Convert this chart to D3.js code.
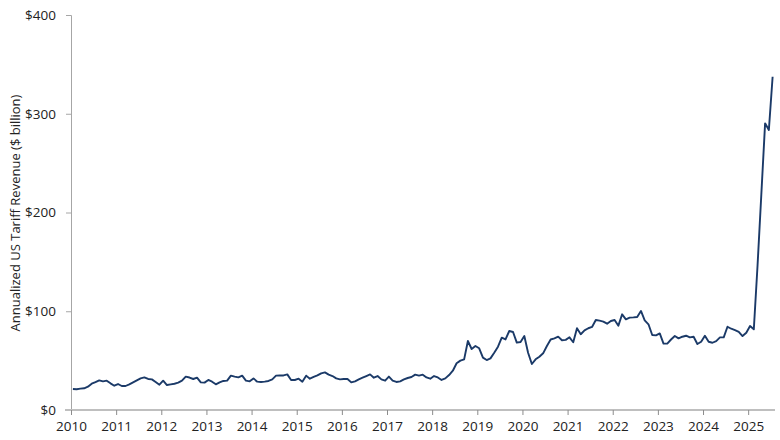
<!DOCTYPE html>
<html>
<head>
<meta charset="utf-8">
<script src="https://cdn.jsdelivr.net/npm/d3@7"></script>
<style>
  html, body { margin: 0; padding: 0; background: #ffffff; }
  svg { display: block; }
  text { font-family: "Open Sans", "Noto Sans", sans-serif; fill: #222222; }
</style>
</head>
<body>
<svg id="chart" width="780" height="440"></svg>
<script>
// Monthly annualized US tariff revenue ($ billion), January of each year onward
const rev2010 = [21.3, 21.0, 21.6, 22.0, 23.6, 26.6, 28.2, 30.0, 29.0, 29.7, 27.0, 24.6];
const rev2011 = [26.3, 24.3, 24.3, 26.0, 28.0, 30.0, 32.0, 33.0, 31.4, 31.0, 28.4, 25.6];
const rev2012 = [29.7, 25.3, 26.0, 26.6, 27.7, 29.7, 33.8, 32.9, 31.4, 32.7, 28.0, 27.7];
const rev2013 = [30.4, 28.7, 26.0, 28.0, 29.4, 29.7, 34.8, 33.8, 33.0, 34.8, 29.7, 29.0];
const rev2014 = [32.0, 28.7, 28.4, 28.7, 29.4, 31.0, 34.8, 35.0, 35.0, 36.1, 30.4, 30.4];
const rev2015 = [31.7, 28.7, 34.8, 31.7, 33.5, 35.0, 37.1, 38.1, 35.8, 34.4, 32.0, 31.0];
const rev2016 = [31.4, 31.4, 28.0, 29.0, 31.0, 32.7, 34.4, 36.1, 32.7, 34.4, 31.0, 29.7];
const rev2017 = [33.8, 29.7, 28.4, 29.0, 31.0, 32.4, 33.4, 35.8, 34.8, 35.8, 33.0, 31.7];
const rev2018 = [34.4, 33.0, 30.4, 32.0, 35.4, 39.8, 47.3, 50.0, 51.3, 69.9, 61.8, 64.8];
const rev2019 = [62.5, 53.0, 50.6, 52.3, 58.0, 64.1, 73.2, 71.5, 80.0, 79.0, 68.2, 68.9];
const rev2020 = [75.0, 58.0, 46.6, 51.3, 54.0, 57.4, 64.8, 71.4, 72.6, 74.3, 70.6, 71.0];
const rev2021 = [73.6, 68.6, 82.8, 76.7, 80.7, 82.8, 84.1, 91.1, 90.5, 89.5, 87.4, 90.1];
const rev2022 = [91.1, 85.4, 96.9, 91.8, 93.5, 93.8, 94.2, 100.3, 90.8, 86.8, 75.9, 75.6];
const rev2023 = [77.6, 67.2, 67.2, 71.4, 74.9, 72.5, 74.2, 75.2, 73.5, 74.2, 66.8, 69.1];
const rev2024 = [75.2, 69.1, 68.1, 69.8, 73.5, 73.5, 84.3, 82.3, 80.9, 79.2, 74.9, 78.3];
const rev2025 = [85.0, 81.7, 146.8, 218.5, 290.3, 283.5, 337.5];

const years = [2010, 2011, 2012, 2013, 2014, 2015, 2016, 2017, 2018, 2019, 2020, 2021, 2022, 2023, 2024, 2025];
const yearSeries = [rev2010, rev2011, rev2012, rev2013, rev2014, rev2015, rev2016, rev2017,
                    rev2018, rev2019, rev2020, rev2021, rev2022, rev2023, rev2024, rev2025];
const yTicks = [0, 100, 200, 300, 400];
const xTicks = years;
const yTitle = "Annualized US Tariff Revenue ($ billion)";

// Build monthly table (mid-month positions)
const data = [];
yearSeries.forEach((arr, i) => {
  arr.forEach((v, m) => data.push({ t: years[i] + (m + 0.5) / 12, v: v }));
});

const svg = d3.select("#chart");
const x = d3.scaleLinear().domain([2010, 2025 + 7 / 12]).range([71, 774.5]);
const y = d3.scaleLinear().domain([0, 400]).range([410, 15]);

// Y axis
const yAxis = svg.append("g")
  .attr("transform", "translate(71,0)")
  .call(d3.axisLeft(y).tickValues(yTicks).tickSize(5).tickPadding(10)
        .tickFormat(d => "$" + d));
yAxis.select(".domain").attr("stroke", "#a6a6a6").attr("stroke-width", 1);
yAxis.selectAll(".tick line").attr("stroke", "#a6a6a6");
yAxis.selectAll(".tick text").style("font-size", "13.5px").attr("fill", "#222");

// X axis
const xAxis = svg.append("g")
  .attr("transform", "translate(0,410)")
  .call(d3.axisBottom(x).tickValues(xTicks).tickSize(5).tickPadding(6)
        .tickFormat(d3.format("d")));
xAxis.select(".domain").remove();
xAxis.insert("line", ":first-child")
  .attr("x1", 65).attr("x2", 775).attr("y1", 0).attr("y2", 0)
  .attr("stroke", "#bfbfbf").attr("stroke-width", 2);
xAxis.selectAll(".tick line").attr("stroke", "#8c8c8c");
xAxis.selectAll(".tick text").style("font-size", "13.5px").attr("fill", "#222");

// Y title
svg.append("text")
  .attr("transform", "translate(19.5,213) rotate(-90)")
  .attr("text-anchor", "middle")
  .style("font-size", "13px")
  .text(yTitle);

// Line
const line = d3.line().x(d => x(d.t)).y(d => y(d.v));
svg.append("path")
  .datum(data)
  .attr("fill", "none")
  .attr("stroke", "#1b3a68")
  .attr("stroke-width", 1.9)
  .attr("stroke-linejoin", "round")
  .attr("d", line);
</script>
</body>
</html>
